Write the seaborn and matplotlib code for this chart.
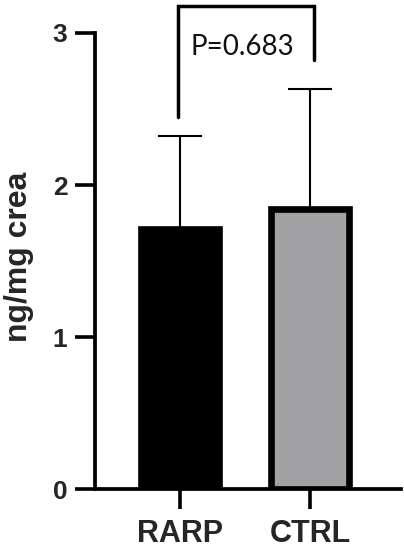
import matplotlib
matplotlib.use("Agg")
import matplotlib.pyplot as plt
import seaborn as sns
import pandas as pd

# --- data ---
groups = ["RARP", "CTRL"]
means = [1.71, 1.84]
sd_upper = [0.61, 0.79]
bar_colors = ["#000000", "#a2a1a6"]
y_ticks = [0, 1, 2, 3]
y_label = "ng/mg crea"
p_text = "P=0.683"
bracket_top = 3.18
bracket_left_end = 2.45
bracket_right_end = 2.82

sns.set_theme(style="ticks")
plt.rcParams["font.family"] = ["Liberation Sans", "DejaVu Sans"]

df = pd.DataFrame({"group": groups, "value": means})

fig = plt.figure(figsize=(4.04, 5.5), dpi=100)
ax = fig.add_axes([0.2351, 0.1109, 0.7575, 0.8291])

sns.barplot(
    data=df, x="group", y="value", hue="group", palette=bar_colors,
    width=0.602, edgecolor="black", linewidth=4.8, legend=False, ax=ax,
)
for p in ax.patches:
    p.set_zorder(3)

# upper-only SD bars, drawn behind the bars
ax.errorbar(
    x=range(len(groups)), y=means, yerr=[[0] * len(groups), sd_upper],
    fmt="none", ecolor="black", elinewidth=1.5, capsize=15.5, capthick=1.5, zorder=2,
)

# significance bracket
ax.plot(
    [-0.015, -0.015, 1.03, 1.03],
    [bracket_left_end, bracket_top, bracket_top, bracket_right_end],
    color="black", lw=2.5, clip_on=False, solid_joinstyle="miter", zorder=4,
)
ax.text(0.477, 2.855, p_text, ha="center", va="baseline",
        fontsize=20, family=["Lato", "DejaVu Sans"], color="#111111")

ax.set_xlim(-0.654, 1.70)
ax.set_ylim(0, 3)
ax.set_yticks(y_ticks)
ax.set_xlabel("")
ax.set_ylabel(y_label, fontsize=23, fontweight="bold")
ax.yaxis.set_label_coords(-0.2, 0.51)

sns.despine(ax=ax)
for s in ["left", "bottom"]:
    ax.spines[s].set_linewidth(2.7)
    ax.spines[s].set_color("black")

ax.tick_params(axis="both", length=14.4, width=2.6, color="black", direction="out")
ax.tick_params(axis="y", labelsize=19, pad=5.5)
ax.tick_params(axis="x", labelsize=22, pad=7)
for lab in ax.get_yticklabels() + ax.get_xticklabels():
    lab.set_fontweight("bold")

fig.savefig("out.png", dpi=100)
